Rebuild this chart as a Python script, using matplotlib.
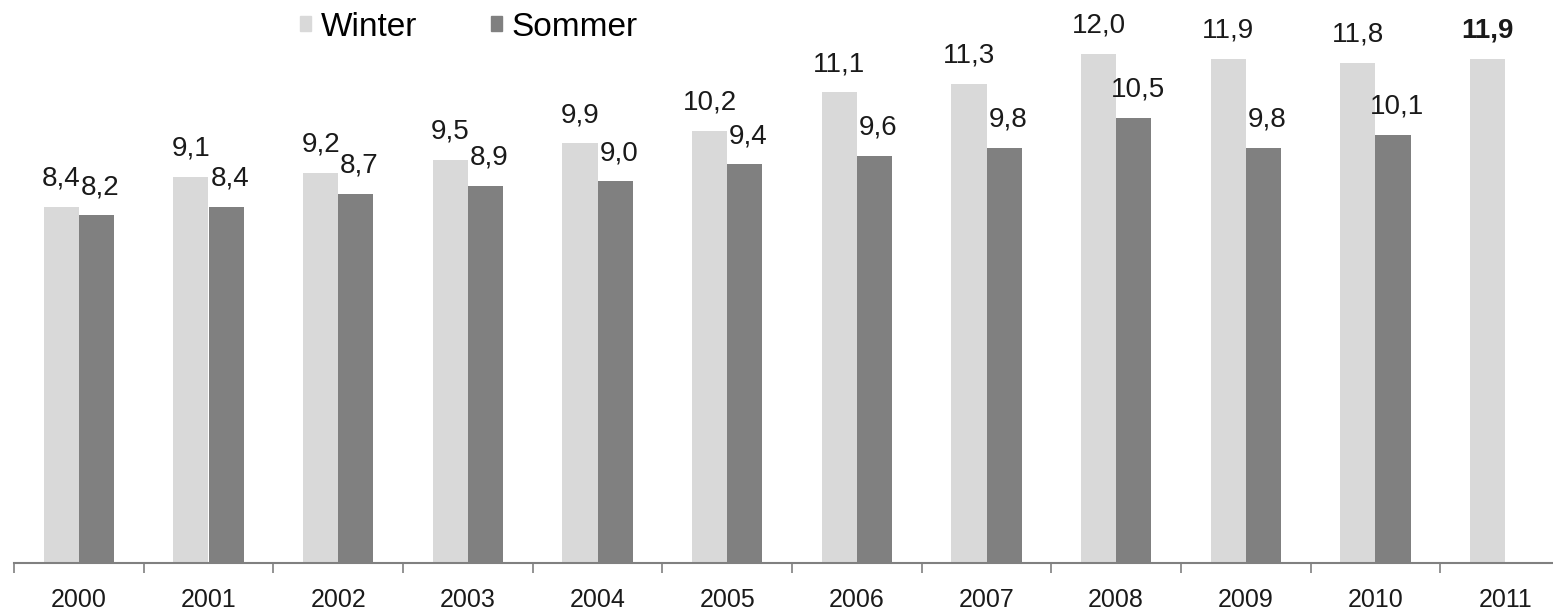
import numpy as np
import matplotlib.pyplot as plt
from matplotlib.patches import Patch

plt.rcParams['font.family'] = ['Liberation Sans', 'DejaVu Sans']

# data
years = ['2000', '2001', '2002', '2003', '2004', '2005',
         '2006', '2007', '2008', '2009', '2010', '2011']
winter = [8.4, 9.1, 9.2, 9.5, 9.9, 10.2, 11.1, 11.3, 12.0, 11.9, 11.8, 11.9]
sommer = [8.2, 8.4, 8.7, 8.9, 9.0, 9.4, 9.6, 9.8, 10.5, 9.8, 10.1, None]

c_winter = '#d9d9d9'
c_sommer = '#808080'

fig = plt.figure(figsize=(15.53, 6.16), dpi=100)
# axes spans from x=14px to 1570px (right side runs off the image)
ax = fig.add_axes([14 / 1553, 53 / 616, 1556 / 1553, 563 / 616])

x = np.arange(len(years))
w = 0.27

for i in range(len(years)):
    ax.bar(x[i] - w / 2, winter[i], w, color=c_winter)
    wt = 'bold' if i == len(years) - 1 else 'normal'
    ax.annotate(f'{winter[i]:.1f}'.replace('.', ','), (x[i] - w / 2, winter[i]),
                xytext=(0, 11), textcoords='offset points', ha='center', va='bottom',
                fontsize=20, color='#1a1a1a', fontweight=wt)
    if sommer[i] is not None:
        ax.bar(x[i] + w / 2, sommer[i], w, color=c_sommer)
        ax.annotate(f'{sommer[i]:.1f}'.replace('.', ','), (x[i] + w / 2 + 0.03, sommer[i]),
                    xytext=(0, 11), textcoords='offset points', ha='center', va='bottom',
                    fontsize=20, color='#1a1a1a')

ax.set_xlim(-0.5, 11.5)
ax.set_ylim(0, 13.28)

for s in ['top', 'right', 'left']:
    ax.spines[s].set_visible(False)
ax.spines['bottom'].set_color('#808080')
ax.spines['bottom'].set_linewidth(1.5)

ax.set_yticks([])
ax.set_xticks(x)
ax.set_xticklabels(years, fontsize=18, color='#1a1a1a')
ax.tick_params(axis='x', which='major', length=0, pad=18)
ax.set_xticks(np.arange(-0.5, 12, 1), minor=True)
ax.tick_params(axis='x', which='minor', length=7, color='#808080', width=1.2)

handles = [Patch(color=c_winter, label='Winter'), Patch(color=c_sommer, label='Sommer')]
fig.legend(handles=handles, loc='center left', bbox_to_anchor=(300 / 1553, 1 - 27 / 616),
           ncol=2, frameon=False, fontsize=24, handlelength=0.33, handleheight=0.33,
           handletextpad=0.3, columnspacing=2.2, borderaxespad=0, borderpad=0)

fig.savefig('out.png', dpi=100)
